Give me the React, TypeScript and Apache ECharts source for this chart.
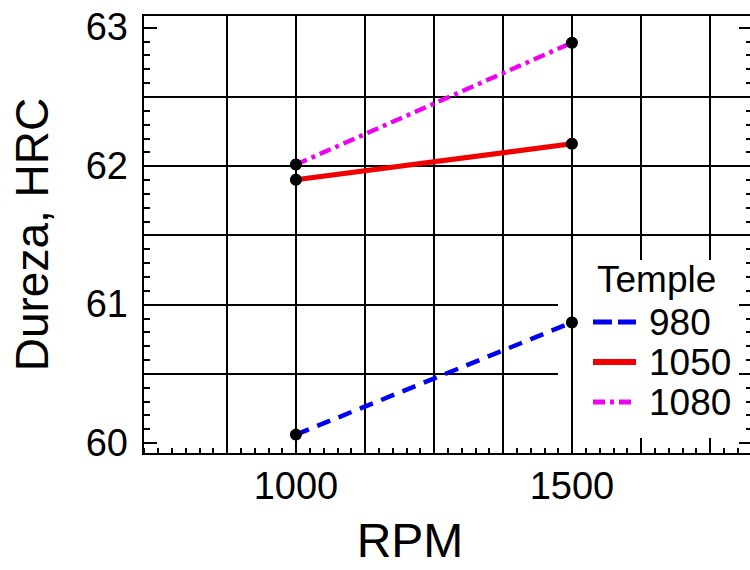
import React, { useEffect, useRef } from 'react';
import * as echarts from 'echarts';

const FONT = '"Liberation Sans", Arial, Helvetica, sans-serif';

// ---- data ----
const RPM = [1000, 1500];
const SERIES_NAMES = ['980', '1050', '1080'];
const H_980 = [60.06, 60.87];
const H_1050 = [61.9, 62.16];
const H_1080 = [62.01, 62.89];

// ---- axis ticks / labels ----
const X_LABELS = [1000, 1500];
const Y_LABELS = [60, 61, 62, 63];
const X_GRID_LOW = [875, 1000, 1125, 1250, 1375, 1625, 1750];
const X_GRID_HIGH = [1500];
const X_MAJOR_TICKS = [875, 1000, 1125, 1250, 1375, 1500, 1625, 1750];
const Y_GRID = [60.5, 61, 61.5, 62, 62.5];
const Y_MAJOR_TICKS = [60, 60.5, 61, 61.5, 62, 62.5, 63];
const X_MIN = 723;
const X_MAX = 1828;
const Y_MIN = 59.92;
const Y_MAX = 63.09;

function steps(a: number, b: number, step: number): number[] {
  const out: number[] = [];
  const n = Math.round((b - a) / step);
  for (let i = 0; i <= n; i++) out.push(Math.round((a + i * step) * 1000) / 1000);
  return out;
}
const X_MINOR = steps(725, 1825, 25);
const Y_MINOR = steps(60, 63, 0.1);

const BLACK = '#000';
const BLUE = '#0000f0';
const RED = '#f00000';
const MAGENTA = '#f000f0';

function hiddenBase() {
  return {
    axisLine: { show: false },
    axisLabel: { show: false },
    splitLine: { show: false },
  };
}

export default function App() {
  const ref = useRef<HTMLDivElement>(null);

  useEffect(() => {
    if (!ref.current) return;
    const chart = echarts.init(ref.current, undefined, { renderer: 'svg' });

    const xBase = { type: 'value', min: X_MIN, max: X_MAX, position: 'bottom' };
    const yBase = { type: 'value', min: Y_MIN, max: Y_MAX };

    const option: any = {
      animation: false,
      backgroundColor: '#fff',
      title: {
        text: 'Temple',
        left: 597,
        top: 261,
        padding: 0,
        textStyle: { fontSize: 37, fontWeight: 'normal', color: BLACK, fontFamily: FONT },
      },
      legend: {
        data: [
          { name: SERIES_NAMES[0], lineStyle: { type: [19, 6], width: 5 } },
          { name: SERIES_NAMES[1], lineStyle: { type: 'solid', width: 6 } },
          { name: SERIES_NAMES[2], lineStyle: { type: [12, 5, 4, 5], width: 5 } },
        ],
        orient: 'vertical',
        left: 558,
        top: 260,
        padding: [42, 30, 16, 32],
        itemGap: 0,
        itemWidth: 43,
        itemHeight: 14,
        backgroundColor: '#fff',
        z: 1,
        selectedMode: false,
        itemStyle: { opacity: 0 },
        lineStyle: { width: 5 },
        textStyle: {
          fontSize: 37,
          color: BLACK,
          fontFamily: FONT,
          lineHeight: 40,
          padding: [0, 0, 0, 8],
        },
      },
      grid: {
        left: 143,
        right: -3,
        top: 15,
        bottom: 116,
        show: true,
        borderColor: BLACK,
        borderWidth: 2,
        backgroundColor: 'transparent',
        containLabel: false,
        outerBoundsMode: 'none',
      },
      xAxis: [
        {
          ...xBase,
          z: 0,
          axisLine: { show: true, onZero: false, lineStyle: { color: BLACK, width: 2 } },
          axisTick: { show: false, customValues: X_GRID_LOW },
          splitLine: { show: true, lineStyle: { color: BLACK, width: 2 } },
          axisLabel: {
            show: true,
            customValues: X_LABELS,
            formatter: (v: number) => String(v),
            margin: 13,
            fontSize: 38,
            color: BLACK,
            fontFamily: FONT,
          },
          name: 'RPM',
          nameLocation: 'middle',
          nameGap: 62,
          nameMoveOverlap: false,
          nameTextStyle: { fontSize: 48, color: BLACK, fontFamily: FONT, padding: [0, 76, 0, 0] },
        },
        {
          ...xBase,
          ...hiddenBase(),
          z: 2,
          axisTick: { show: false, customValues: X_GRID_HIGH },
          splitLine: { show: true, lineStyle: { color: BLACK, width: 2 } },
        },
        {
          ...xBase,
          ...hiddenBase(),
          z: 2,
          axisTick: { show: true, inside: true, length: 15, customValues: X_MAJOR_TICKS, lineStyle: { color: BLACK, width: 2 } },
        },
        {
          ...xBase,
          ...hiddenBase(),
          z: 2,
          axisTick: { show: true, inside: true, length: 6, customValues: X_MINOR, lineStyle: { color: BLACK, width: 2 } },
        },
      ],
      yAxis: [
        {
          ...yBase,
          position: 'left',
          z: 0,
          axisLine: { show: true, onZero: false, lineStyle: { color: BLACK, width: 2 } },
          axisTick: { show: true, inside: true, length: 14, customValues: Y_GRID, lineStyle: { color: BLACK, width: 2 } },
          splitLine: { show: true, lineStyle: { color: BLACK, width: 2 } },
          axisLabel: {
            show: true,
            customValues: Y_LABELS,
            formatter: (v: number) => String(v),
            margin: 15,
            fontSize: 38,
            color: BLACK,
            fontFamily: FONT,
          },
          name: 'Dureza, HRC',
          nameLocation: 'middle',
          nameGap: 88,
          nameRotate: 90,
          nameMoveOverlap: false,
          nameTextStyle: { fontSize: 46, color: BLACK, fontFamily: FONT },
        },
        {
          ...yBase,
          ...hiddenBase(),
          position: 'left',
          z: 0,
          axisTick: { show: true, inside: true, length: 14, customValues: [60, 63], lineStyle: { color: BLACK, width: 2 } },
        },
        {
          ...yBase,
          ...hiddenBase(),
          position: 'left',
          z: 0,
          axisTick: { show: true, inside: true, length: 7, customValues: Y_MINOR, lineStyle: { color: BLACK, width: 2 } },
        },
        {
          ...yBase,
          ...hiddenBase(),
          position: 'right',
          z: 2,
          axisTick: { show: true, inside: true, length: 14, customValues: Y_MAJOR_TICKS, lineStyle: { color: BLACK, width: 2 } },
        },
        {
          ...yBase,
          ...hiddenBase(),
          position: 'right',
          z: 2,
          axisTick: { show: true, inside: true, length: 7, customValues: Y_MINOR, lineStyle: { color: BLACK, width: 2 } },
        },
      ],
      series: [
        {
          name: SERIES_NAMES[0],
          type: 'line',
          xAxisIndex: 0,
          yAxisIndex: 0,
          data: RPM.map((x, i) => [x, H_980[i]]),
          symbol: 'circle',
          symbolSize: 12,
          itemStyle: { color: BLACK },
          lineStyle: { color: BLUE, width: 4.5, type: [14, 9] },
          z: 3,
        },
        {
          name: SERIES_NAMES[1],
          type: 'line',
          xAxisIndex: 0,
          yAxisIndex: 0,
          data: RPM.map((x, i) => [x, H_1050[i]]),
          symbol: 'circle',
          symbolSize: 12,
          itemStyle: { color: BLACK },
          lineStyle: { color: RED, width: 5, type: 'solid' },
          z: 3,
        },
        {
          name: SERIES_NAMES[2],
          type: 'line',
          xAxisIndex: 0,
          yAxisIndex: 0,
          data: RPM.map((x, i) => [x, H_1080[i]]),
          symbol: 'circle',
          symbolSize: 12,
          itemStyle: { color: BLACK },
          lineStyle: { color: MAGENTA, width: 4.5, type: [12, 5, 4, 5] },
          z: 3,
        },
      ],
    };

    chart.setOption(option);
    return () => chart.dispose();
  }, []);

  return (
    <div
      ref={ref}
      style={{ position: 'fixed', left: 0, top: 0, width: 750, height: 570, background: '#fff' }}
    />
  );
}
